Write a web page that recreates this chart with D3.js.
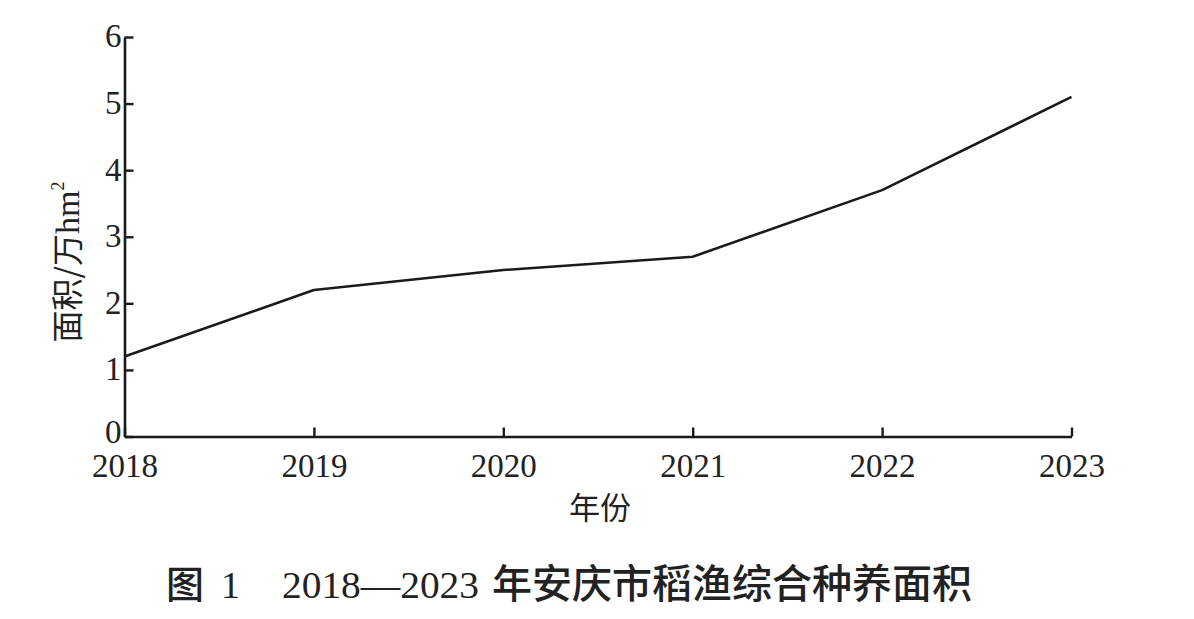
<!DOCTYPE html>
<html><head><meta charset="utf-8">
<script src="https://cdn.jsdelivr.net/npm/d3@7"></script>
<style>body{margin:0;background:#fff}</style>
</head><body>
<svg id="chart" width="1194" height="619"></svg>
<script>
const years = ["2018","2019","2020","2021","2022","2023"];
const area = [1.2, 2.2, 2.5, 2.7, 3.7, 5.1];
const yTicks = [0,1,2,3,4,5,6];
const yLabel = "面积/万";
const xLabel = "年份";
const caption = ["图", "1", "2018—2023", "年安庆市稻渔综合种养面积"];

const svg = d3.select("#chart");
const mLeft = 124.5, mRight = 1071.5, mTop = 37, mBottom = 436.5;
const x = d3.scalePoint().domain(years).range([mLeft, mRight]);
const y = d3.scaleLinear().domain([0, 6]).range([mBottom, mTop]);
const serif = "'Liberation Serif','DejaVu Serif',serif";
const cjk = "'Noto Sans CJK SC',sans-serif";

const gx = svg.append("g").attr("transform", `translate(0,${mBottom})`)
  .call(d3.axisBottom(x).tickSizeInner(-9).tickSizeOuter(0).tickPadding(17));
gx.select(".domain").attr("stroke", "#1a1a1a").attr("stroke-width", 2.6);
gx.selectAll(".tick line").attr("stroke", "#1a1a1a").attr("stroke-width", 2.4);
gx.selectAll(".tick text").attr("font-family", serif).attr("font-size", 33).attr("fill", "#222")
  .attr("dy", "0.71em");

const gy = svg.append("g").attr("transform", `translate(${mLeft},0)`)
  .call(d3.axisLeft(y).tickValues(yTicks).tickFormat(d3.format("d")).tickSizeInner(-9).tickSizeOuter(0).tickPadding(2));
gy.select(".domain").attr("stroke", "#1a1a1a").attr("stroke-width", 2.6);
gy.selectAll(".tick line").attr("stroke", "#1a1a1a").attr("stroke-width", 2.4);
gy.selectAll(".tick text").attr("font-family", serif).attr("font-size", 33).attr("fill", "#222")
  .attr("x", -3).attr("dy", d => d === 0 ? "0.18em" : "0.3em");

const line = d3.line().x((d, i) => x(years[i])).y(d => y(d));
svg.append("path").datum(area).attr("d", line).attr("fill", "none")
  .attr("stroke", "#1a1a1a").attr("stroke-width", 2.6).attr("stroke-linejoin", "round");

const yl = svg.append("text").attr("transform", "translate(79,262) rotate(-90)")
  .attr("text-anchor", "middle").attr("fill", "#222");
yl.append("tspan").attr("font-family", cjk).attr("font-size", 32).attr("font-weight", 400).text(yLabel);
yl.append("tspan").attr("font-family", serif).attr("font-size", 34).text("hm");
yl.append("tspan").attr("font-family", serif).attr("font-size", 18).attr("dy", -15).text("2");

svg.append("text").attr("x", 600).attr("y", 519).attr("text-anchor", "middle")
  .attr("font-family", cjk).attr("font-size", 31).attr("font-weight", 400).attr("fill", "#222").text(xLabel);

const cap = svg.append("g").attr("fill", "#222");
cap.append("text").attr("x", 166).attr("y", 598).attr("font-family", cjk).attr("font-size", 38).attr("font-weight", 500).text(caption[0]);
cap.append("text").attr("x", 221).attr("y", 598).attr("font-family", serif).attr("font-size", 38).text(caption[1]);
cap.append("text").attr("x", 282).attr("y", 598).attr("font-family", serif).attr("font-size", 38)
  .attr("textLength", 197).attr("lengthAdjust", "spacingAndGlyphs").text(caption[2]);
cap.append("text").attr("x", 492).attr("y", 598).attr("font-family", cjk).attr("font-size", 40).attr("font-weight", 500).text(caption[3]);
</script>
</body></html>
